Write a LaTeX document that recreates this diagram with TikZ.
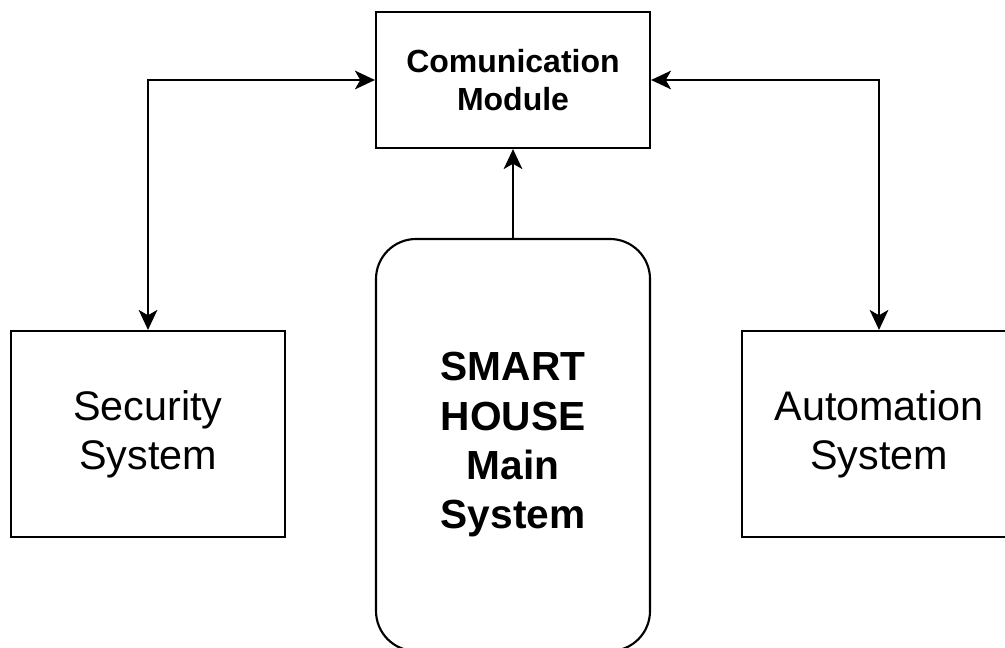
\documentclass[tikz,border=0pt]{standalone}
\usepackage{fontspec}
\setmainfont{Liberation Sans}
\usetikzlibrary{arrows.meta}
\tikzset{
  tip/.style={},
  box/.style={draw=black, line width=1.6pt, minimum width=274*0.75pt, inner sep=0pt, align=center, text=black},
  conn/.style={line width=1.6pt, draw=black, arrows={Stealth[length=15pt,width=14pt,inset=4pt]-Stealth[length=15pt,width=14pt,inset=4pt]}},
  conn1/.style={line width=1.6pt, draw=black, -{Stealth[length=15pt,width=14pt,inset=4pt]}},
  bigfont/.style={font=\fontsize{31}{37}\selectfont},
  bigbold/.style={font=\fontsize{30.5}{37}\selectfont\bfseries},
  smallbold/.style={font=\fontsize{24}{28}\selectfont\bfseries}
}
\begin{document}
\begin{tikzpicture}[x=0.75pt,y=-0.75pt]
\clip (0,0) rectangle (1005,648);
\fill[white] (0,0) rectangle (1005,648);
\node[box, smallbold, minimum height=136*0.75pt] (comm) at (513,80) {Comunication\\Module};
\node[box, bigfont, minimum height=206*0.75pt] (sec) at (148,434) {Security\\System};
\node[box, bigfont, minimum height=206*0.75pt] (auto) at (879,434) {Automation\\System};
\node[box, bigbold, rounded corners=30pt, minimum height=412*0.75pt] (main) at (513,445) {SMART\\HOUSE\\Main\\System};
\draw[conn] (sec.north) |- (comm.west);
\draw[conn] (comm.east) -| (auto.north);
\draw[conn1] (main.north) -- (comm.south);
\end{tikzpicture}
\end{document}
